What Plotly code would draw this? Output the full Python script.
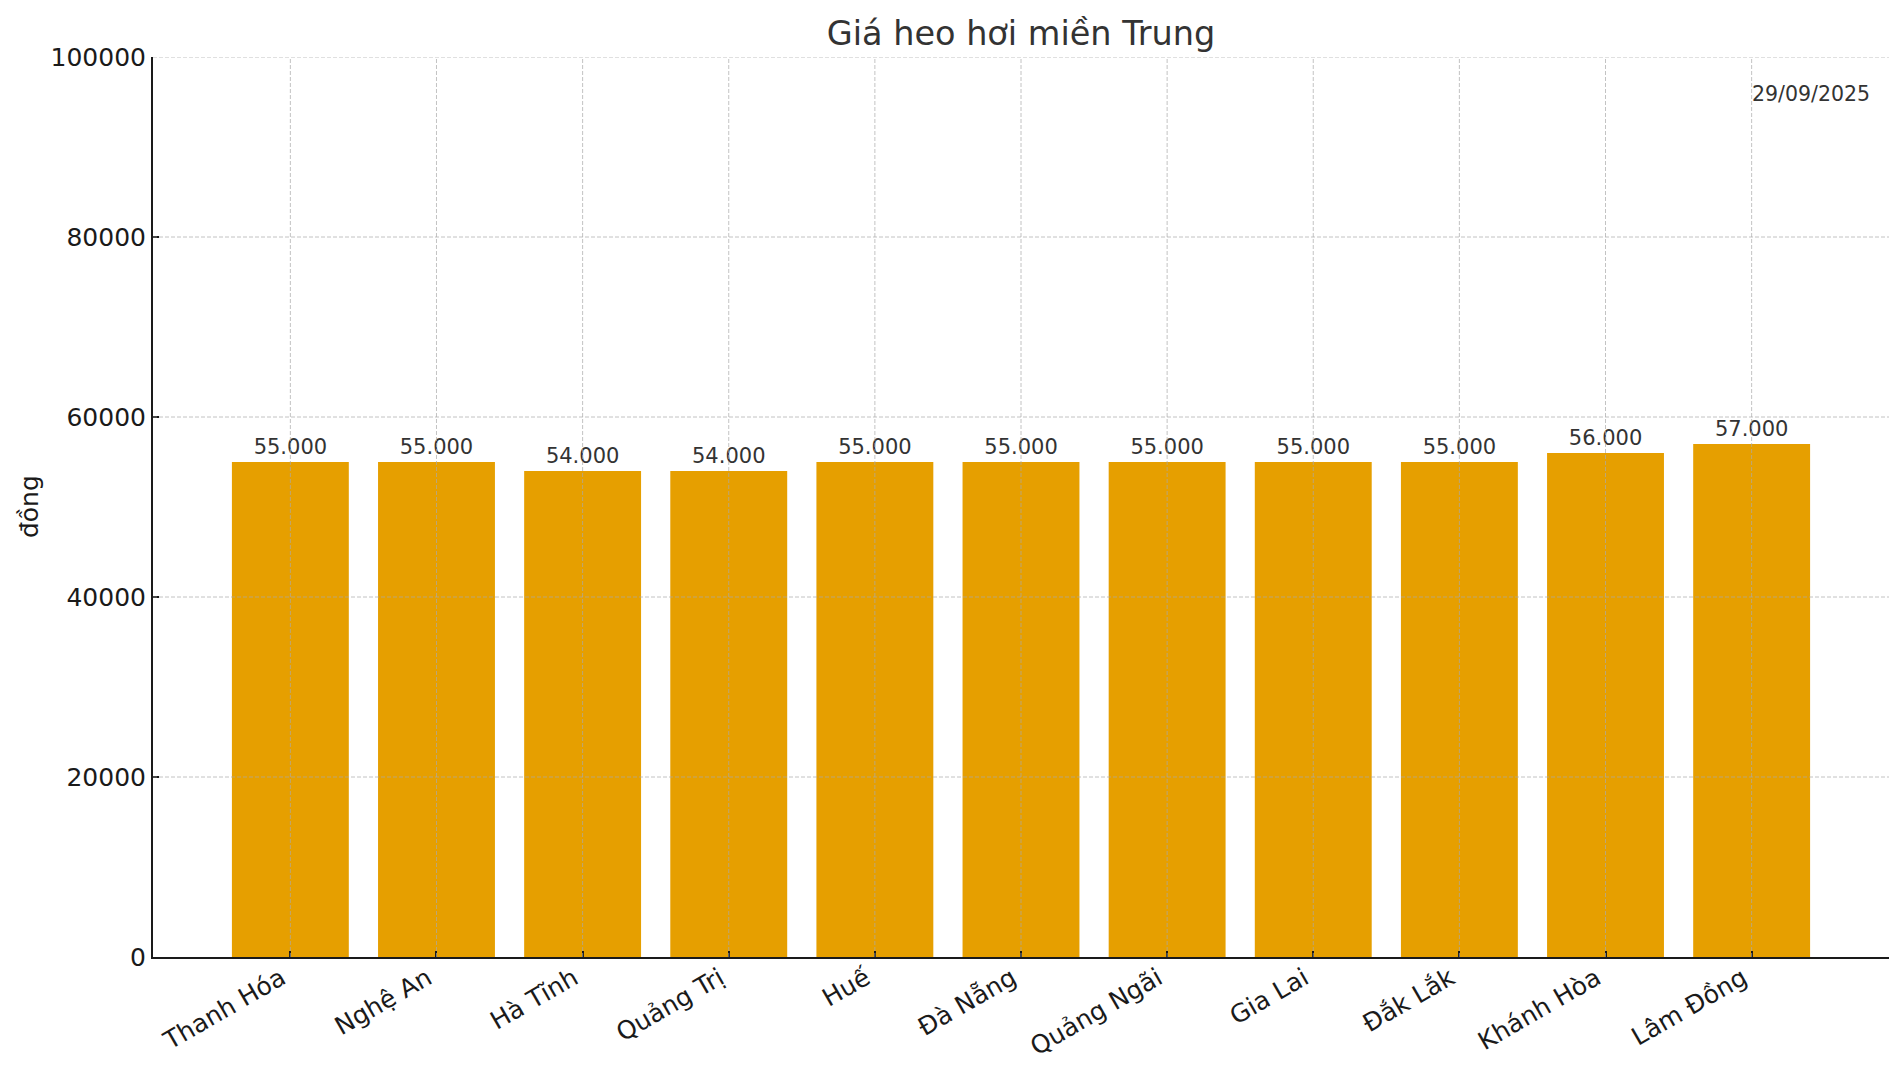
import plotly.graph_objects as go

# Giá heo hơi miền Trung - 29/09/2025
provinces = ['Thanh Hóa', 'Nghệ An', 'Hà Tĩnh', 'Quảng Trị', 'Huế', 'Đà Nẵng',
             'Quảng Ngãi', 'Gia Lai', 'Đắk Lắk', 'Khánh Hòa', 'Lâm Đồng']
prices = [55000, 55000, 54000, 54000, 55000, 55000, 55000, 55000, 55000, 56000, 57000]
y_ticks = [0, 20000, 40000, 60000, 80000, 100000]
date_label = '29/09/2025'

FONT = 'DejaVu Sans'
BAR_COLOR = '#E69F00'
GRID_COLOR = 'rgba(170,170,170,0.7)'

# the page body has an 8px margin, so the figure is a bit smaller than the window
W, H = 1896, 1057

labels = [f"{p:,}".replace(',', '.') for p in prices]

fig = go.Figure()
fig.add_trace(go.Bar(
    x=provinces,
    y=prices,
    width=0.8,
    marker=dict(color=BAR_COLOR, line=dict(width=0)),
    text=labels,
    textposition='outside',
    textfont=dict(family=FONT, size=21, color='#333333'),
    cliponaxis=False,
    hoverinfo='x+y',
))

# dashed grid drawn on top of the bars (like matplotlib's default)
shapes = []
for v in y_ticks[1:]:
    shapes.append(dict(type='line', xref='paper', yref='y', x0=0, x1=1, y0=v, y1=v,
                       line=dict(color=GRID_COLOR, width=1, dash='4px,2px'), layer='above'))
for i in range(len(provinces)):
    shapes.append(dict(type='line', xref='x', yref='paper', x0=i, x1=i, y0=0, y1=1,
                       line=dict(color=GRID_COLOR, width=1, dash='4px,2px'), layer='above'))

fig.update_layout(
    width=W,
    height=H,
    paper_bgcolor='white',
    plot_bgcolor='white',
    font=dict(family=FONT, color='#000000'),
    margin=dict(l=145, r=15, t=49, b=108, autoexpand=False),
    showlegend=False,
    shapes=shapes,
    title=dict(text='Giá heo hơi miền Trung', x=0.5, xref='paper', xanchor='center',
               y=1 - 25 / H, yref='container', yanchor='middle',
               font=dict(family=FONT, size=33.5, color='#333333')),
    annotations=[
        dict(text=date_label, xref='paper', yref='paper', x=0.99, y=0.975,
             xanchor='right', yanchor='top', showarrow=False,
             font=dict(family=FONT, size=20.5, color='#333333')),
        dict(text='đồng', xref='paper', yref='paper', x=-0.0714, y=0.5,
             xanchor='center', yanchor='middle', textangle=-90, showarrow=False,
             font=dict(family=FONT, size=25, color='#1a1a1a')),
    ],
)

fig.update_xaxes(
    range=[-0.94, len(provinces) - 1 + 0.94],
    showgrid=False,
    showline=True, linecolor='#1a1a1a', linewidth=2,
    ticks='inside', ticklen=6, tickwidth=1.5, tickcolor='#1a1a1a',
    tickangle=-30,
    ticklabelshift=-9,
    ticklabelstandoff=-5,
    tickfont=dict(family=FONT, size=25, color='#1a1a1a'),
    zeroline=False,
    automargin=False,
)
fig.update_yaxes(
    range=[0, 100000],
    tickvals=y_ticks,
    tickformat='d',
    showgrid=False,
    showline=True, linecolor='#1a1a1a', linewidth=2,
    ticks='inside', ticklen=6, tickwidth=1.5, tickcolor='#1a1a1a',
    tickfont=dict(family=FONT, size=25, color='#1a1a1a'),
    zeroline=False,
    automargin=False,
)

fig.write_html('out.html')
